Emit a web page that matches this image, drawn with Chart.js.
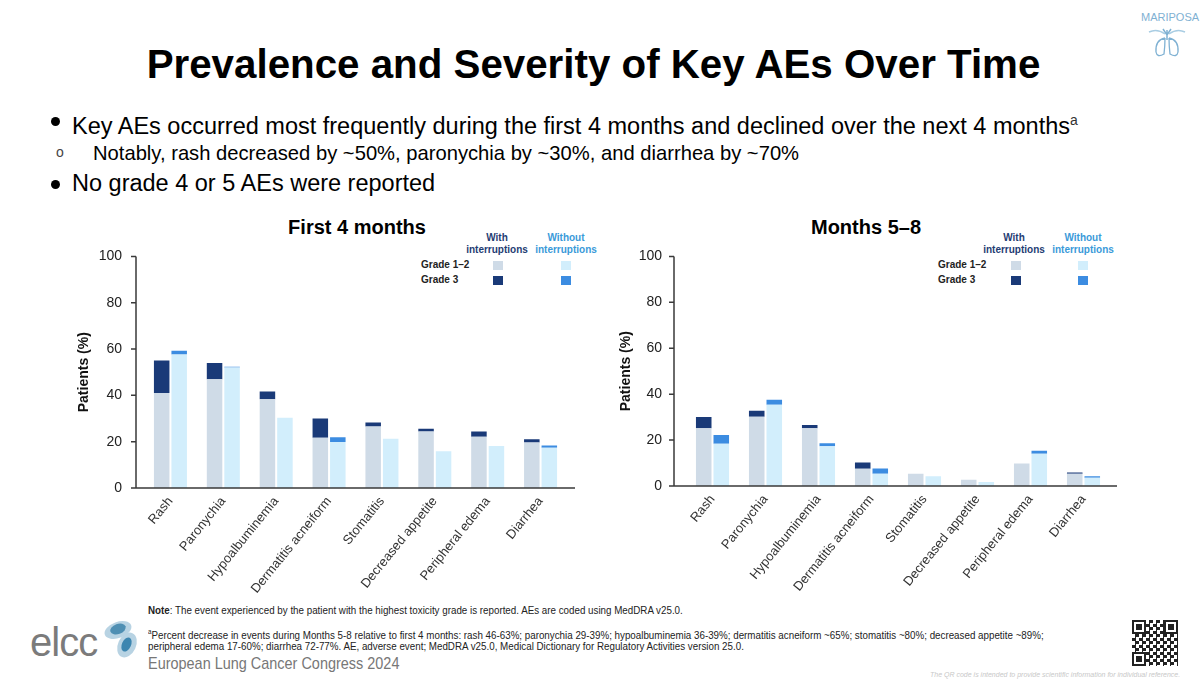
<!DOCTYPE html>
<html>
<head>
<meta charset="utf-8">
<script src="https://cdn.jsdelivr.net/npm/chart.js@4.4.1/dist/chart.umd.min.js"></script>
<style>
  body { margin: 0; }
  #slide { position: relative; width: 1200px; height: 682px; background: #fff; overflow: hidden;
           font-family: "Liberation Sans", Arial, sans-serif; color: #000; }
  .abs { position: absolute; white-space: nowrap; }
  .title { left: 0; width: 1187px; top: 45px; font-size: 40.3px; line-height: 40px; font-weight: bold; text-align: center; }
  .bullet { font-size: 23.5px; line-height: 23px; }
  .dot { position: absolute; width: 9px; height: 9px; border-radius: 50%; background: #000; }
  .sub { font-size: 20.2px; line-height: 20px; }
  .chartTitle { font-size: 20px; font-weight: bold; line-height: 20px; transform: translateX(-50%); }
  .legHead { font-size: 10px; font-weight: bold; line-height: 12px; text-align: center; transform: translateX(-50%); }
  .legLabel { font-size: 10px; font-weight: bold; line-height: 10px; color: #222; }
  .box { position: absolute; width: 10px; height: 9px; }
  .foot { font-size: 11px; line-height: 11px; color: #222; transform: scaleX(0.89); transform-origin: 0 0; }
  canvas { position: absolute; }
</style>
</head>
<body>
<div id="slide">
  <div class="abs title">Prevalence and Severity of Key AEs Over Time</div>

  <div class="dot" style="left:51px; top:117px;"></div>
  <div class="abs bullet" style="left:72px; top:109px;">Key AEs occurred most frequently during the first 4 months and declined over the next 4 months<sup style="font-size:14px; color:#333;">a</sup></div>
  <div class="abs" style="left:56px; top:144px; font-size:14px; color:#444;">o</div>
  <div class="abs sub" style="left:93px; top:143px;">Notably, rash decreased by ~50%, paronychia by ~30%, and diarrhea by ~70%</div>
  <div class="dot" style="left:51px; top:180px;"></div>
  <div class="abs bullet" style="left:72px; top:172px;">No grade 4 or 5 AEs were reported</div>

  <div class="abs chartTitle" style="left:357px; top:217px;">First 4 months</div>
  <div class="abs chartTitle" style="left:866px; top:217px;">Months 5–8</div>

  <div class="abs legHead" style="left:497px; top:232px; color:#1f3d73;">With<br>interruptions</div>
  <div class="abs legHead" style="left:566px; top:232px; color:#3a9ad9;">Without<br>interruptions</div>
  <div class="abs legLabel" style="left:421px; top:260px;">Grade 1–2</div>
  <div class="abs legLabel" style="left:421px; top:275px;">Grade 3</div>
  <div class="box" style="left:493px; top:261px; background:#cfdbe7;"></div>
  <div class="box" style="left:493px; top:276px; background:#1a3a78;"></div>
  <div class="box" style="left:561px; top:261px; background:#d2eefc;"></div>
  <div class="box" style="left:561px; top:276px; background:#3c8ce1;"></div>

  <div class="abs legHead" style="left:1014px; top:232px; color:#1f3d73;">With<br>interruptions</div>
  <div class="abs legHead" style="left:1083px; top:232px; color:#3a9ad9;">Without<br>interruptions</div>
  <div class="abs legLabel" style="left:938px; top:260px;">Grade 1–2</div>
  <div class="abs legLabel" style="left:938px; top:275px;">Grade 3</div>
  <div class="box" style="left:1011px; top:261px; background:#cfdbe7;"></div>
  <div class="box" style="left:1011px; top:276px; background:#1a3a78;"></div>
  <div class="box" style="left:1078px; top:261px; background:#d2eefc;"></div>
  <div class="box" style="left:1078px; top:276px; background:#3c8ce1;"></div>

  <canvas id="chartFirst" width="517" height="374" style="left:60px; top:226px;"></canvas>
  <canvas id="chartLater" width="522" height="374" style="left:600px; top:224px;"></canvas>

  <div class="abs foot" style="left:148px; top:605px;"><b>Note</b>: The event experienced by the patient with the highest toxicity grade is reported. AEs are coded using MedDRA v25.0.</div>
  <div class="abs foot" style="left:148px; top:626px;"><sup style="font-size:7px;">a</sup>Percent decrease in events during Months 5-8 relative to first 4 months: rash 46-63%; paronychia 29-39%; hypoalbuminemia 36-39%; dermatitis acneiform ~65%; stomatitis ~80%; decreased appetite ~89%;</div>
  <div class="abs foot" style="left:148px; top:641px;">peripheral edema 17-60%; diarrhea 72-77%. AE, adverse event; MedDRA v25.0, Medical Dictionary for Regulatory Activities version 25.0.</div>
  <div class="abs foot" style="left:148px; top:655px; font-size:17px; line-height:17px; color:#777; transform:scaleX(0.85);">European Lung Cancer Congress 2024</div>

  <div class="abs" style="left:30px; top:622px; font-size:40px; line-height:40px; color:#7b7b7b; letter-spacing:-1px;">elcc</div>
  <div class="abs" style="left:104px; top:622px; width:28px; height:16px; border-radius:50%; background:#b8d3e3; transform:rotate(-20deg);"></div>
  <div class="abs" style="left:110px; top:624px; width:16px; height:10px; border-radius:50%; background:#4f8fb3; transform:rotate(-20deg);"></div>
  <div class="abs" style="left:118px; top:632px; width:18px; height:26px; border-radius:50%; background:#b8d3e3; transform:rotate(25deg);"></div>
  <div class="abs" style="left:122px; top:637px; width:9px; height:15px; border-radius:50%; background:#3d86b0; transform:rotate(25deg);"></div>

  <div class="abs" style="left:1132px; top:620px; width:46px; height:46px; background:repeating-conic-gradient(#222 0 25%, #fff 0 50%) 0 0/7px 7px;"></div>
  <div class="abs" style="left:1132px; top:620px; width:10px; height:10px; border:2px solid #222; background:#fff; box-shadow: inset 0 0 0 2px #fff, inset 0 0 0 6px #222;"></div>
  <div class="abs" style="left:1164px; top:620px; width:10px; height:10px; border:2px solid #222; background:#fff; box-shadow: inset 0 0 0 2px #fff, inset 0 0 0 6px #222;"></div>
  <div class="abs" style="left:1132px; top:652px; width:10px; height:10px; border:2px solid #222; background:#fff; box-shadow: inset 0 0 0 2px #fff, inset 0 0 0 6px #222;"></div>
  <div class="abs" style="left:930px; top:671px; font-size:7px; font-style:italic; color:#c8c8c8;">The QR code is intended to provide scientific information for individual reference.</div>

  <div class="abs" style="left:1141px; top:11px; font-size:11px; color:#7fb1d3;">MARIPOSA</div>
  <svg class="abs" style="left:1145px; top:26px;" width="44" height="34" viewBox="0 0 44 34">
    <path d="M4 6 Q12 2 20 8 M40 6 Q32 2 24 8" stroke="#a9cde3" stroke-width="1.5" fill="none"/>
    <path d="M22 4 L22 14 M18 3 L22 9 L26 3" stroke="#7fb1d3" stroke-width="1.5" fill="none"/>
    <path d="M20 12 Q10 14 11 26 Q12 32 19 28 Q20 20 20 12 M24 12 Q34 14 33 26 Q32 32 25 28 Q24 20 24 12" stroke="#7fb1d3" stroke-width="1.3" fill="none"/>
  </svg>
</div>

<script>
const categories = ['Rash', 'Paronychia', 'Hypoalbuminemia', 'Dermatitis acneiform', 'Stomatitis', 'Decreased appetite', 'Peripheral edema', 'Diarrhea'];
const yTicks = [0, 20, 40, 60, 80, 100];

// First 4 months (% of patients)
const firstWithGrade12 = [41, 47, 38.3, 21.7, 26.6, 24.4, 22.1, 19.6];
const firstWithGrade3 = [14, 7, 3.4, 8.3, 1.7, 1.2, 2.3, 1.5];
const firstWithoutGrade12 = [57.6, 52, 30.3, 19.9, 21.3, 15.9, 18.1, 17.4];
const firstWithoutGrade3 = [1.7, 0.4, 0, 2, 0, 0, 0, 1];

// Months 5-8 (% of patients)
const laterWithGrade12 = [25.2, 30.2, 25.2, 7.5, 5.3, 2.7, 9.8, 5.3];
const laterWithGrade3 = [4.9, 2.6, 1.4, 2.7, 0, 0, 0, 0.6];
const laterWithoutGrade12 = [18.4, 35.4, 17.3, 5.3, 4.2, 1.7, 14.1, 3.6];
const laterWithoutGrade3 = [3.8, 2.2, 1.3, 2.3, 0, 0, 1.2, 0.7];

const colors = {
    withGrade12: '#cfdbe7',
    withGrade3: '#1a3a78',
    withoutGrade12: '#d2eefc',
    withoutGrade3: '#3c8ce1',
};

// axis lines sit a few px away from the bars, like the slide
const axisLines = {
    id: 'axisLines',
    afterDatasetsDraw(chart, args, opts) {
        const { ctx, chartArea } = chart;
        const y = chart.scales.y;
        const x0 = chartArea.left - opts.gapLeft;
        const y0 = y.getPixelForValue(0);

        ctx.save();
        ctx.strokeStyle = '#3a3a3a';
        ctx.lineWidth = 1.5;
        ctx.beginPath();
        ctx.moveTo(x0, y.getPixelForValue(100));
        ctx.lineTo(x0, y0);
        y.ticks.forEach(t => {
            const py = y.getPixelForValue(t.value);
            ctx.moveTo(x0 - 5, py);
            ctx.lineTo(x0, py);
        });
        ctx.moveTo(x0 - 4, y0);
        ctx.lineTo(chartArea.right + opts.gapRight, y0);
        ctx.stroke();
        ctx.restore();
    }
};

function makeDataset(label, data, color, stack) {
    return {
        label,
        data,
        backgroundColor: color,
        stack,
        borderWidth: 0,
        categoryPercentage: 0.662,
        barPercentage: 0.886,
    };
}

function createChart(canvasId, withG12, withG3, withoutG12, withoutG3, layout) {
    const canvas = document.getElementById(canvasId);

    const config = {
        type: 'bar',
        data: {
            labels: categories,
            datasets: [
                makeDataset('With interruptions, Grade 1–2', withG12, colors.withGrade12, 'with'),
                makeDataset('With interruptions, Grade 3', withG3, colors.withGrade3, 'with'),
                makeDataset('Without interruptions, Grade 1–2', withoutG12, colors.withoutGrade12, 'without'),
                makeDataset('Without interruptions, Grade 3', withoutG3, colors.withoutGrade3, 'without'),
            ],
        },
        options: {
            responsive: false,
            animation: false,
            layout: {
                padding: { top: 16, right: layout.padRight, bottom: 2, left: 0 }
            },
            plugins: {
                legend: { display: false },
                tooltip: { enabled: false },
                axisLines: { gapLeft: layout.gapLeft, gapRight: layout.gapRight },
            },
            scales: {
                x: {
                    stacked: true,
                    grid: { display: false, drawTicks: false },
                    border: { display: false },
                    ticks: {
                        autoSkip: false,
                        minRotation: 51,
                        maxRotation: 51,
                        padding: 6,
                        color: '#333',
                        font: { family: 'Liberation Sans', size: 13 },
                    },
                    afterFit: scale => { scale.height = 110; },
                },
                y: {
                    stacked: true,
                    min: 0,
                    max: 100,
                    afterBuildTicks: scale => { scale.ticks = yTicks.map(v => ({ value: v })); },
                    grid: { display: false, drawTicks: false },
                    border: { display: false },
                    ticks: {
                        padding: layout.tickPad,
                        color: '#222',
                        font: { family: 'Liberation Sans', size: 14 },
                    },
                    title: {
                        display: true,
                        text: 'Patients (%)',
                        color: '#111',
                        font: { family: 'Liberation Sans', size: 14, weight: 'bold' },
                        padding: { top: layout.titlePad, bottom: 0 },
                    },
                    afterFit: scale => { scale.width = layout.axisWidth; },
                },
            },
        },
        plugins: [axisLines],
    };

    return new Chart(canvas, config);
}

createChart('chartFirst', firstWithGrade12, firstWithGrade3, firstWithoutGrade12, firstWithoutGrade3,
    { axisWidth: 84, padRight: 10, gapLeft: 8, gapRight: 8, tickPad: 22, titlePad: 16 });

createChart('chartLater', laterWithGrade12, laterWithGrade3, laterWithoutGrade12, laterWithoutGrade3,
    { axisWidth: 86, padRight: 12, gapLeft: 12, gapRight: 7, tickPad: 24, titlePad: 18 });
</script>
</body>
</html>
